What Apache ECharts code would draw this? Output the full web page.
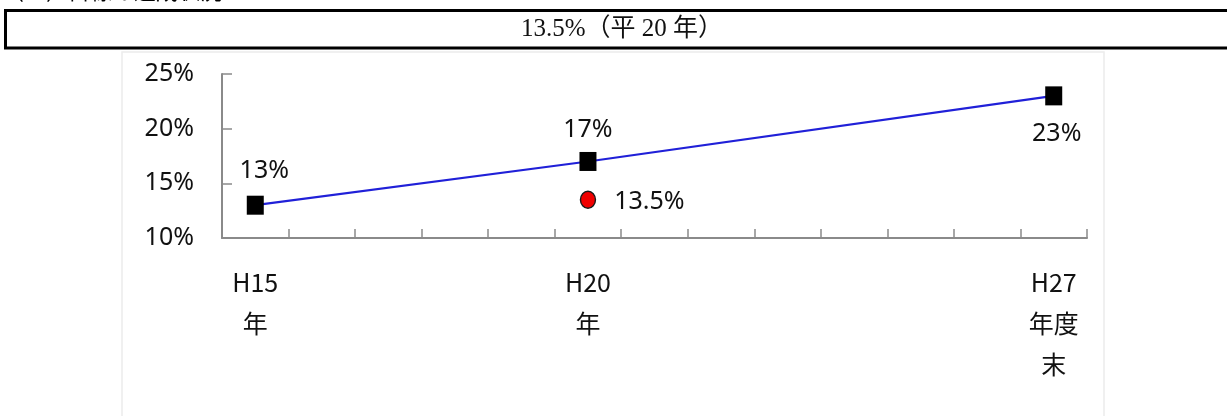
<!DOCTYPE html>
<html>
<head>
<meta charset="utf-8">
<script src="https://cdn.jsdelivr.net/npm/echarts@6/dist/echarts.min.js"></script>
<style>
  html, body { margin: 0; padding: 0; background: #fff; }
  #chart { width: 1227px; height: 416px; }
</style>
</head>
<body>
<div id="chart"></div>
<script>
// Fiscal years on the category axis (H15 .. H27)
const categories = ['H15', 'H16', 'H17', 'H18', 'H19', 'H20', 'H21', 'H22', 'H23', 'H24', 'H25', 'H26', 'H27'];
// Axis label text for the labelled years
const tickLabels = { H15: 'H15\n年', H20: 'H20\n年', H27: 'H27\n年度\n末' };
// Plan values (%), line through H15 → H20 → H27
const planValues = [13, null, null, null, null, 17, null, null, null, null, null, null, 23];
// Achieved value (%) in H20
const resultValues = [null, null, null, null, null, 13.5, null, null, null, null, null, null, null];
// Value axis
const yMin = 10, yMax = 25, yStep = 5;

const headerText = '13.5%（平 20 年）';
const titleText = '（３）目標の達成状況';

const sans = '"Noto Sans", "Noto Sans CJK JP", sans-serif';
const cjk = '"Noto Sans CJK JP", "Noto Sans", sans-serif';
const textColor = '#111111';

// Label placement for each plotted plan point
const planLabelStyle = {
  0: { position: 'inside', offset: [9, -34] },
  5: { position: 'inside', offset: [0, -32] },
  12: { position: 'inside', offset: [3, 38] }
};

const planData = planValues.map((v, i) => {
  if (v === null) return null;
  return { value: v, label: planLabelStyle[i] };
});

const chart = echarts.init(document.getElementById('chart'), null, { renderer: 'canvas' });

chart.setOption({
  animation: false,
  backgroundColor: '#ffffff',
  grid: { left: 222, right: 140, top: 74, bottom: 178, containLabel: false },
  xAxis: {
    type: 'category',
    data: categories,
    boundaryGap: true,
    axisLine: { show: true, lineStyle: { color: '#8a8a8a', width: 2 } },
    axisTick: { show: true, inside: true, length: 9, interval: 0, lineStyle: { color: '#8a8a8a', width: 1.5 } },
    axisLabel: {
      interval: (idx) => tickLabels[categories[idx]] !== undefined,
      formatter: (val) => tickLabels[val] || '',
      margin: 24,
      fontFamily: cjk,
      fontSize: 25,
      lineHeight: 41,
      color: textColor,
      verticalAlign: 'top'
    },
    splitLine: { show: false }
  },
  yAxis: {
    type: 'value',
    min: yMin,
    max: yMax,
    interval: yStep,
    axisLine: { show: true, lineStyle: { color: '#8a8a8a', width: 2 } },
    axisTick: { show: true, inside: true, length: 10, lineStyle: { color: '#8a8a8a', width: 1.5 } },
    axisLabel: {
      formatter: '{value}%',
      margin: 28,
      fontFamily: sans,
      fontSize: 25,
      color: textColor
    },
    splitLine: { show: false }
  },
  graphic: [
    // faint frame around the chart panel
    {
      type: 'rect',
      silent: true,
      z: -10,
      shape: { x: 122, y: 52, width: 982, height: 380 },
      style: { fill: '#ffffff', stroke: '#ececec', lineWidth: 1.5 }
    },
    // section heading (top clipped by the page edge)
    {
      type: 'text',
      left: 2,
      top: -20,
      style: { text: titleText, font: '22px ' + cjk, fill: '#000' }
    },
    // header box
    {
      type: 'rect',
      silent: true,
      shape: { x: 5.5, y: 10.5, width: 1240, height: 37.5 },
      style: { fill: 'none', stroke: '#000', lineWidth: 3 }
    },
    {
      type: 'text',
      x: 622,
      y: 29,
      style: {
        text: headerText,
        font: '25px "Liberation Serif", "Noto Sans CJK JP", serif',
        fill: '#111',
        align: 'center',
        verticalAlign: 'middle'
      }
    }
  ],
  series: [
    {
      name: 'plan',
      type: 'line',
      data: planData,
      connectNulls: true,
      symbol: 'rect',
      symbolSize: [17, 19],
      itemStyle: { color: '#000000', opacity: 1 },
      lineStyle: { color: '#2020d8', width: 2.2 },
      label: {
        show: true,
        formatter: (p) => p.value + '%',
        fontFamily: sans,
        fontSize: 25,
        color: textColor
      },
      z: 3
    },
    {
      name: 'result',
      type: 'scatter',
      data: resultValues,
      symbol: 'circle',
      symbolSize: [15, 17],
      itemStyle: { color: '#f00000', borderColor: '#1a1a1a', borderWidth: 1.5, opacity: 1 },
      label: {
        show: true,
        position: 'right',
        distance: 18,
        offset: [0, 2],
        formatter: (p) => p.value + '%',
        fontFamily: sans,
        fontSize: 25,
        color: textColor,
        opacity: 1
      },
      z: 4
    }
  ]
});
</script>
</body>
</html>
